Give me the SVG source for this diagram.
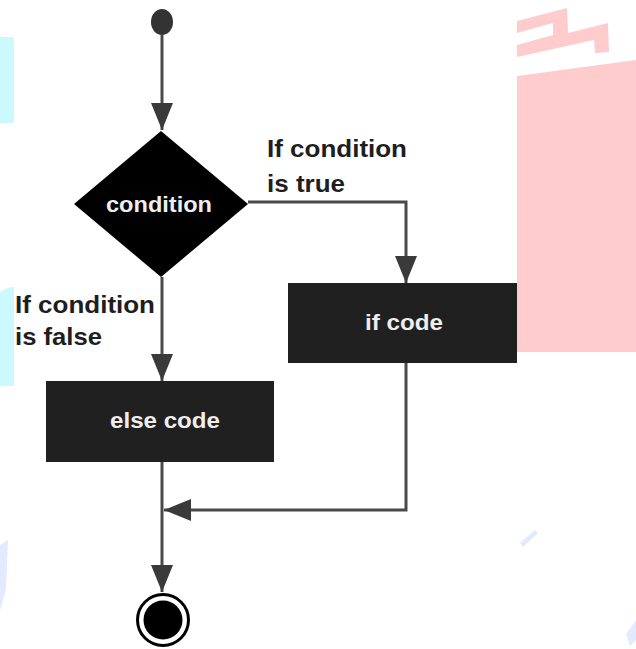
<svg xmlns="http://www.w3.org/2000/svg" width="636" height="649" viewBox="0 0 636 649">
  <defs>
    <marker id="arrow" markerUnits="userSpaceOnUse" markerWidth="27" markerHeight="22" refX="27" refY="11" orient="auto">
      <path d="M0,0 L27,11 L0,22 z" fill="#3a3a3a"/>
    </marker>
    <style>
      .bg-cyan { fill: #ccf9fd; }
      .bg-pink { fill: #ffcccd; }
      .bg-blue { fill: #e2eaff; }
      .edge { fill: none; stroke: #4a4a4a; stroke-width: 3; marker-end: url(#arrow); }
      .box { fill: #202020; }
      .nodetext { font-family: "Liberation Sans", Arial, sans-serif; font-weight: bold; font-size: 22px; fill: #eeeeee; }
      .label { font-family: "Liberation Sans", Arial, sans-serif; font-weight: bold; font-size: 24px; fill: #1e1e1e; }
    </style>
  </defs>

  <rect width="636" height="649" fill="#ffffff"/>

  <!-- background watermark fragments -->
  <g id="background">
    <rect class="bg-cyan" x="0" y="37" width="14" height="86"/>
    <path class="bg-cyan" d="M0,292 Q8,287 14,287 V386 H0 z"/>
    <polygon class="bg-pink" points="517,21 567,8 568,33 608,23 609,52 595,53 594,40 517,57 517,45 553,35 553,23 517,33"/>
    <polygon class="bg-pink" points="517,76 636,60 636,352 517,352"/>
    <polygon class="bg-blue" points="520,543 535,530 538,533 523,547"/>
    <polygon class="bg-blue" points="0,545 8,540 6,590 0,610"/>
    <polygon class="bg-blue" points="626,634 636,620 636,640 630,646"/>
  </g>

  <g id="connectors">
    <path class="edge" d="M162,35 V130"/>
    <path class="edge" d="M248,202 H406 V283"/>
    <path class="edge" d="M162,277 V381"/>
    <path class="edge" d="M162,462 V592"/>
    <path class="edge" d="M406,363 V510 H164"/>
  </g>

  <g id="start">
    <ellipse cx="162" cy="22" rx="11" ry="13" fill="#333333"/>
  </g>

  <g id="condition">
    <polygon points="161,131 248,204 161,277 74,204" fill="#000000"/>
    <text class="nodetext" x="106" y="212" textLength="106" lengthAdjust="spacingAndGlyphs">condition</text>
  </g>

  <g id="label-true">
    <text class="label" x="267" y="157" textLength="140" lengthAdjust="spacingAndGlyphs">If condition</text>
    <text class="label" x="267" y="192" textLength="78" lengthAdjust="spacingAndGlyphs">is true</text>
  </g>

  <g id="label-false">
    <text class="label" x="15" y="313" textLength="140" lengthAdjust="spacingAndGlyphs">If condition</text>
    <text class="label" x="15" y="345" textLength="87" lengthAdjust="spacingAndGlyphs">is false</text>
  </g>

  <g id="if-code">
    <rect class="box" x="288" y="283" width="229" height="80"/>
    <text class="nodetext" x="365" y="330" textLength="78" lengthAdjust="spacingAndGlyphs">if code</text>
  </g>

  <g id="else-code">
    <rect class="box" x="46" y="381" width="228" height="81"/>
    <text class="nodetext" x="110" y="428" textLength="110" lengthAdjust="spacingAndGlyphs">else code</text>
  </g>

  <g id="end">
    <circle cx="163" cy="620" r="25.5" fill="#ffffff" stroke="#000000" stroke-width="3"/>
    <circle cx="163" cy="620" r="19.5" fill="#000000"/>
  </g>
</svg>
